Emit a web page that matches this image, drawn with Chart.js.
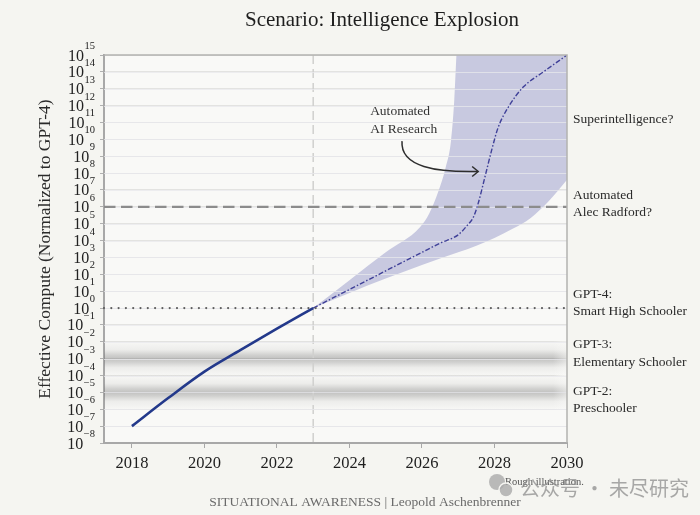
<!DOCTYPE html>
<html>
<head>
<meta charset="utf-8">
<title>Scenario: Intelligence Explosion</title>
<script src="https://cdn.jsdelivr.net/npm/chart.js@4.4.1/dist/chart.umd.min.js"></script>
<style>
  html, body { margin: 0; padding: 0; background: #f5f5f1; }
  #wrap { width: 700px; height: 515px; }
</style>
</head>
<body>
<div id="wrap"><canvas id="explosionChart" width="700" height="515"></canvas></div>
<script>
// historical effective compute (normalized to GPT-4)
var histYears  = [2018, 2019, 2020, 2021, 2022, 2023];
var histValues = [1e-7, 4.6e-6, 1.7e-4, 3.3e-3, 6e-2, 1];

// projected path (dash-dot)
var projYears  = [2023, 2024, 2025, 2026, 2026.5, 2027, 2027.25, 2027.42, 2027.55, 2027.74, 2027.92, 2028.1, 2028.38, 2028.8, 2029.35, 2030];
var projValues = [1, 12.6, 160, 2000, 7000, 2.2e4, 8e4, 2.5e5, 1.6e6, 6.3e7, 2.2e9, 5e10, 8e11, 1.3e13, 1e14, 1e15];

// uncertainty band
var upperYears  = [2023, 2024, 2025, 2025.95, 2026.2, 2026.45, 2026.65, 2026.8, 2026.89, 2026.95, 2027.02, 2030];
var upperValues = [1, 45, 2000, 6.3e4, 4e5, 8e6, 2e8, 8e9, 2e12, 1e15, 1e18, 1e18];
var lowerYears  = [2023, 2024, 2025, 2026, 2027, 2027.5, 2028, 2028.5, 2029, 2029.5, 2030];
var lowerValues = [1, 7.9, 56, 355, 2000, 5000, 1.4e4, 5e4, 2.2e5, 2.2e6, 4e7];

// ticks
var xTickYears  = [2018, 2020, 2022, 2024, 2026, 2028, 2030];
var yTickValues = [1e-8, 1e-7, 1e-6, 1e-5, 1e-4, 1e-3, 1e-2, 1e-1, 1e0, 1e1, 1e2, 1e3,
                   1e4, 1e5, 1e6, 1e7, 1e8, 1e9, 1e10, 1e11, 1e12, 1e13, 1e14, 1e15];

// milestone levels
var nowYear = 2023;
var radfordLevel = 1e6;
var gpt4Level = 1;
var gpt3Level = 1e-3;
var gpt2Level = 1e-5;

// labels on the right
var milestoneTexts  = [['Superintelligence?'], ['Automated', 'Alec Radford?'], ['GPT-4:', 'Smart High Schooler'],
                       ['GPT-3:', 'Elementary Schooler'], ['GPT-2:', 'Preschooler']];
var milestoneValues = [1.6e11, 1.5e6, 2, 2e-3, 3.6e-6];

// "Automated AI Research" note
var noteText  = ['Automated', 'AI Research'];
var noteAt    = [2024.57, 1.3e11];
var arrowFrom = [2025.45, 7.8e9];
var arrowTo   = [2027.55, 1.25e8];

var serif = '"Liberation Serif", "DejaVu Serif", serif';

function toPoints(xs, ys) {
  return xs.map(function(v, i) { return {x: v, y: ys[i]}; });
}

function hLine(ctx, a, py, color, width, dash, cap) {
  ctx.save();
  ctx.strokeStyle = color;
  ctx.lineWidth = width;
  ctx.setLineDash(dash);
  ctx.lineCap = cap || 'butt';
  ctx.beginPath();
  ctx.moveTo(a.left, py);
  ctx.lineTo(a.right, py);
  ctx.stroke();
  ctx.restore();
}

var chartDecor = {
  id: 'chartDecor',
  beforeDraw: function(chart) {
    var ctx = chart.ctx, a = chart.chartArea;
    ctx.save();
    ctx.fillStyle = '#f5f5f1';
    ctx.fillRect(0, 0, chart.width, chart.height);
    ctx.fillStyle = '#f9f9f7';
    ctx.fillRect(a.left, a.top, a.right - a.left, a.bottom - a.top);
    ctx.restore();
  },
  beforeDatasetsDraw: function(chart) {
    var ctx = chart.ctx, a = chart.chartArea, ys = chart.scales.y, xs = chart.scales.x;
    ctx.save();
    // soft gray bands at the GPT-3 and GPT-2 levels
    [gpt3Level, gpt2Level].forEach(function(v) {
      var yc = ys.getPixelForValue(v);
      var h = ys.getPixelForValue(v / 12) - yc;
      var g = ctx.createLinearGradient(0, yc - h, 0, yc + h);
      g.addColorStop(0, 'rgba(130,130,130,0)');
      g.addColorStop(0.25, 'rgba(130,130,130,0.1)');
      g.addColorStop(0.4, 'rgba(115,115,115,0.3)');
      g.addColorStop(0.5, 'rgba(110,110,110,0.4)');
      g.addColorStop(0.6, 'rgba(115,115,115,0.3)');
      g.addColorStop(0.75, 'rgba(130,130,130,0.1)');
      g.addColorStop(1, 'rgba(130,130,130,0)');
      ctx.fillStyle = g;
      ctx.fillRect(a.left, yc - h, a.right - a.left, 2 * h);
      // fade out toward the right edge
      var f = ctx.createLinearGradient(a.right - 14, 0, a.right, 0);
      f.addColorStop(0, 'rgba(249,249,247,0)');
      f.addColorStop(1, 'rgba(249,249,247,0.55)');
      ctx.fillStyle = f;
      ctx.fillRect(a.right - 14, yc - h, 14, 2 * h);
    });
    // "now" line
    var xn = xs.getPixelForValue(nowYear);
    ctx.strokeStyle = '#d0d0ce';
    ctx.lineWidth = 1.5;
    ctx.setLineDash([9, 5]);
    ctx.beginPath();
    ctx.moveTo(xn, a.top);
    ctx.lineTo(xn, a.bottom);
    ctx.stroke();
    ctx.restore();
  },
  afterDatasetDraw: function(chart, args) {
    if (args.index !== 1) return;
    // grid lines stay visible through the band
    var ctx = chart.ctx, a = chart.chartArea, ys = chart.scales.y;
    ctx.save();
    ctx.strokeStyle = 'rgba(232,232,236,0.75)';
    ctx.lineWidth = 1;
    ys.ticks.forEach(function(t) {
      var py = Math.round(ys.getPixelForValue(t.value)) + 0.5;
      if (py <= a.top + 1 || py >= a.bottom - 1) return;
      ctx.beginPath();
      ctx.moveTo(a.left, py);
      ctx.lineTo(a.right, py);
      ctx.stroke();
    });
    ctx.restore();
  },
  afterDatasetsDraw: function(chart) {
    var ctx = chart.ctx, a = chart.chartArea, ys = chart.scales.y;
    hLine(ctx, a, ys.getPixelForValue(radfordLevel), '#8c8c8c', 2.4, [11.5, 5.5]);
    hLine(ctx, a, ys.getPixelForValue(gpt4Level), '#5c5c5c', 2.2, [0, 7.3], 'round');
  },
  afterDraw: function(chart) {
    var ctx = chart.ctx, a = chart.chartArea, ys = chart.scales.y, xs = chart.scales.x;
    ctx.save();

    // top and right frame
    ctx.strokeStyle = '#b2b2b0';
    ctx.lineWidth = 1.5;
    ctx.beginPath();
    ctx.moveTo(a.left, a.top);
    ctx.lineTo(a.right, a.top);
    ctx.lineTo(a.right, a.bottom);
    ctx.stroke();

    // y tick labels with superscript exponents
    ctx.fillStyle = '#222';
    ctx.textAlign = 'right';
    ctx.textBaseline = 'alphabetic';
    ys.ticks.forEach(function(t) {
      var py = ys.getPixelForValue(t.value);
      var e = Math.round(Math.log10(t.value));
      var sup = (e < 0 ? '\u2212' : '') + Math.abs(e);
      var right = a.left - 9;
      ctx.font = '10.5px ' + serif;
      var sw = ctx.measureText(sup).width;
      ctx.fillText(sup, right, py - 6);
      ctx.font = '16px ' + serif;
      ctx.fillText('10', right - sw - 0.5, py + 5.5);
    });

    // milestone labels on the right
    ctx.textAlign = 'left';
    ctx.textBaseline = 'middle';
    ctx.font = '13.5px ' + serif;
    ctx.fillStyle = '#2a2a2a';
    milestoneTexts.forEach(function(lines, i) {
      var yc = ys.getPixelForValue(milestoneValues[i]);
      var y0 = yc - (lines.length - 1) * 8.8;
      lines.forEach(function(s, j) { ctx.fillText(s, a.right + 6, y0 + j * 17.6); });
    });

    // automated AI research note + arrow
    var nx = xs.getPixelForValue(noteAt[0]), ny = ys.getPixelForValue(noteAt[1]);
    ctx.fillStyle = '#333';
    ctx.fillText(noteText[0], nx, ny - 8.8);
    ctx.fillText(noteText[1], nx, ny + 8.8);
    var x1 = xs.getPixelForValue(arrowFrom[0]), y1 = ys.getPixelForValue(arrowFrom[1]);
    var x2 = xs.getPixelForValue(arrowTo[0]), y2 = ys.getPixelForValue(arrowTo[1]);
    ctx.strokeStyle = '#2e2e2e';
    ctx.lineWidth = 1.5;
    ctx.beginPath();
    ctx.moveTo(x1, y1);
    ctx.bezierCurveTo(x1 - 2, y1 + 26, x1 + 35, y2 + 1, x2, y2);
    ctx.stroke();
    ctx.beginPath();
    ctx.moveTo(x2 - 6, y2 - 5);
    ctx.lineTo(x2, y2);
    ctx.lineTo(x2 - 6, y2 + 5);
    ctx.stroke();

    // title
    ctx.textAlign = 'center';
    ctx.textBaseline = 'alphabetic';
    ctx.fillStyle = '#1e1e1e';
    ctx.font = '21px ' + serif;
    ctx.fillText('Scenario: Intelligence Explosion', 382, 26);

    // footer
    ctx.fillStyle = '#6a6a6a';
    ctx.font = '13.5px ' + serif;
    ctx.fillText('SITUATIONAL AWARENESS | Leopold Aschenbrenner', 365, 506);

    ctx.textAlign = 'left';
    ctx.fillStyle = '#555';
    ctx.font = '10.5px ' + serif;
    ctx.fillText('Rough illustration.', 505, 485);

    // watermark
    ctx.fillStyle = 'rgba(170,170,170,0.8)';
    ctx.beginPath(); ctx.arc(497, 482, 8, 0, Math.PI * 2); ctx.fill();
    ctx.strokeStyle = '#f5f5f1';
    ctx.lineWidth = 1.5;
    ctx.beginPath(); ctx.arc(506, 490, 7, 0, Math.PI * 2); ctx.fill(); ctx.stroke();
    ctx.fillStyle = 'rgba(140,140,140,0.75)';
    ctx.font = '20px "Noto Sans CJK SC", sans-serif';
    ctx.fillText('公众号 · 未尽研究', 520, 496);

    ctx.restore();
  }
};

Chart.defaults.font.family = serif;

var ctx = document.getElementById('explosionChart').getContext('2d');
var explosionChart = new Chart(ctx, {
  type: 'line',
  data: {
    datasets: [{
      label: 'lower',
      data: toPoints(lowerYears, lowerValues),
      borderWidth: 0,
      pointRadius: 0,
      fill: false,
      cubicInterpolationMode: 'monotone',
      order: 4
    }, {
      label: 'upper',
      data: toPoints(upperYears, upperValues),
      borderWidth: 0,
      pointRadius: 0,
      fill: '-1',
      backgroundColor: '#c8c9e0',
      cubicInterpolationMode: 'monotone',
      order: 3
    }, {
      label: 'projection',
      data: toPoints(projYears, projValues),
      borderColor: '#3f4098',
      borderWidth: 1.4,
      borderDash: [5, 2, 1.5, 2],
      pointRadius: 0,
      fill: false,
      cubicInterpolationMode: 'monotone',
      order: 2
    }, {
      label: 'historical',
      data: toPoints(histYears, histValues),
      borderColor: '#23398b',
      borderWidth: 2.6,
      pointRadius: 0,
      fill: false,
      cubicInterpolationMode: 'monotone',
      order: 1
    }]
  },
  options: {
    responsive: false,
    animation: false,
    layout: { padding: { top: 55, right: 133, bottom: 0, left: 31 } },
    plugins: {
      legend: { display: false },
      tooltip: { enabled: false }
    },
    scales: {
      x: {
        type: 'linear',
        min: 2017.23,
        max: 2030,
        afterBuildTicks: function(scale) {
          scale.ticks = xTickYears.map(function(v) { return {value: v}; });
        },
        afterFit: function(scale) { scale.height = 72; },
        ticks: {
          color: '#1e1e1e',
          font: { size: 16.5 },
          padding: 6,
          maxRotation: 0,
          callback: function(v) { return String(v); }
        },
        grid: { drawOnChartArea: false, color: '#a8a8a8', tickLength: 5 },
        border: { color: '#a8a8a8', width: 2 }
      },
      y: {
        type: 'logarithmic',
        min: 1e-8,
        max: 1e15,
        afterBuildTicks: function(scale) {
          scale.ticks = yTickValues.map(function(v) { return {value: v}; });
        },
        afterFit: function(scale) { scale.width = 73; },
        ticks: { display: false },
        grid: { color: '#e3e3e1', lineWidth: 1, tickLength: 4, tickColor: '#b0b0b0' },
        border: { color: '#a8a8a8', width: 2 },
        title: {
          display: true,
          text: 'Effective Compute (Normalized to GPT-4)',
          color: '#2a2a2a',
          font: { size: 17.5 },
          padding: { top: 4, bottom: 0 }
        }
      }
    }
  },
  plugins: [chartDecor]
});
</script>
</body>
</html>
